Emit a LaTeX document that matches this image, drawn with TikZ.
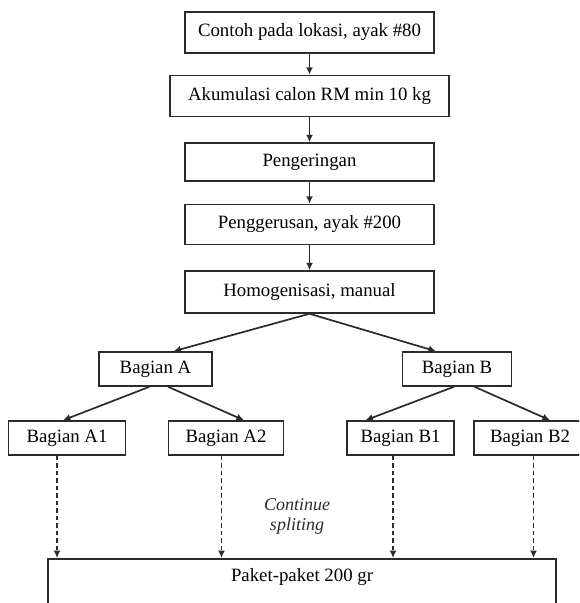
\documentclass[tikz,border=0pt]{standalone}
\usepackage{fontspec}
\setmainfont{Liberation Serif}
\usetikzlibrary{arrows.meta,positioning}
\definecolor{FlowLine}{HTML}{2B2B2B}

\begin{document}
\begin{tikzpicture}[x=1pt, y=-1pt,
  node distance=22pt,
  box/.style={draw=FlowLine, line width=1.5pt, align=center, inner sep=0pt, minimum height=40pt, minimum width=249pt, font=\fontsize{18.8}{22}\selectfont},
  part/.style={box, minimum height=34pt, minimum width=113pt},
  flow/.style={-{Latex[length=7.5pt,width=7pt]}, line width=1.7pt, FlowLine},
  split/.style={flow, dash pattern=on 4.5pt off 3pt}
]
\useasboundingbox (0,0) rectangle (579,603);
\clip (0,0) rectangle (579,603);
\node[box, minimum height=41pt] (sample) at (309.5,32.5) {Contoh pada lokasi, ayak \#80};
\node[box, minimum height=41pt, minimum width=279pt, below=21pt of sample] (accum) {Akumulasi calon RM min 10 kg};
\node[box, minimum height=38pt, below=25pt of accum] (dry) {Pengeringan};
\node[box, below=22pt of dry] (grind) {Penggerusan, ayak \#200};
\node[box, minimum height=42pt, below=25pt of grind] (homog) {Homogenisasi, manual};
\node[part] (partA) at (155.5,369) {Bagian A};
\node[part, minimum width=109pt] (partB) at (457,369) {Bagian B};
\node[part, minimum width=117pt] (partA1) at (67,438) {Bagian A1};
\node[part, minimum width=115pt] (partA2) at (226,438) {Bagian A2};
\node[part, minimum width=107pt] (partB1) at (400.5,438) {Bagian B1};
\node[part, minimum width=112pt] (partB2) at (530,438) {Bagian B2};
\node[box, minimum width=508pt, minimum height=52pt, anchor=north] (packs) at (302,558) {};
\node[font=\fontsize{18.8}{22}\selectfont] (packsText) at ([yshift=-19pt]packs.north) {Paket-paket 200 gr};
\node[align=center, font=\fontsize{18}{20}\selectfont\itshape, FlowLine] (cont) at (297,516) {Continue\\spliting};
\draw[flow] (sample) -- (accum);
\draw[flow] (accum) -- (dry);
\draw[flow] (dry) -- (grind);
\draw[flow] (grind) -- (homog);
\draw[flow] (homog.south) -- ([xshift=18pt]partA.north);
\draw[flow] (homog.south) -- ([xshift=-21pt]partB.north);
\draw[flow] ([xshift=-6pt]partA.south) -- ([xshift=-4pt]partA1.north);
\draw[flow] ([xshift=12.5pt]partA.south) -- ([xshift=18pt]partA2.north);
\draw[flow] ([xshift=-3pt]partB.south) -- ([xshift=-35pt]partB1.north);
\draw[flow] ([xshift=17.5pt]partB.south) -- ([xshift=20pt]partB2.north);
\draw[split] ([xshift=-10pt]partA1.south) -- ([xshift=-10pt]partA1.south |- packs.north);
\draw[split] ([xshift=-4.5pt]partA2.south) -- ([xshift=-4.5pt]partA2.south |- packs.north);
\draw[split] ([xshift=-7.5pt]partB1.south) -- ([xshift=-7.5pt]partB1.south |- packs.north);
\draw[split] ([xshift=3.5pt]partB2.south) -- ([xshift=3.5pt]partB2.south |- packs.north);
\end{tikzpicture}
\end{document}
